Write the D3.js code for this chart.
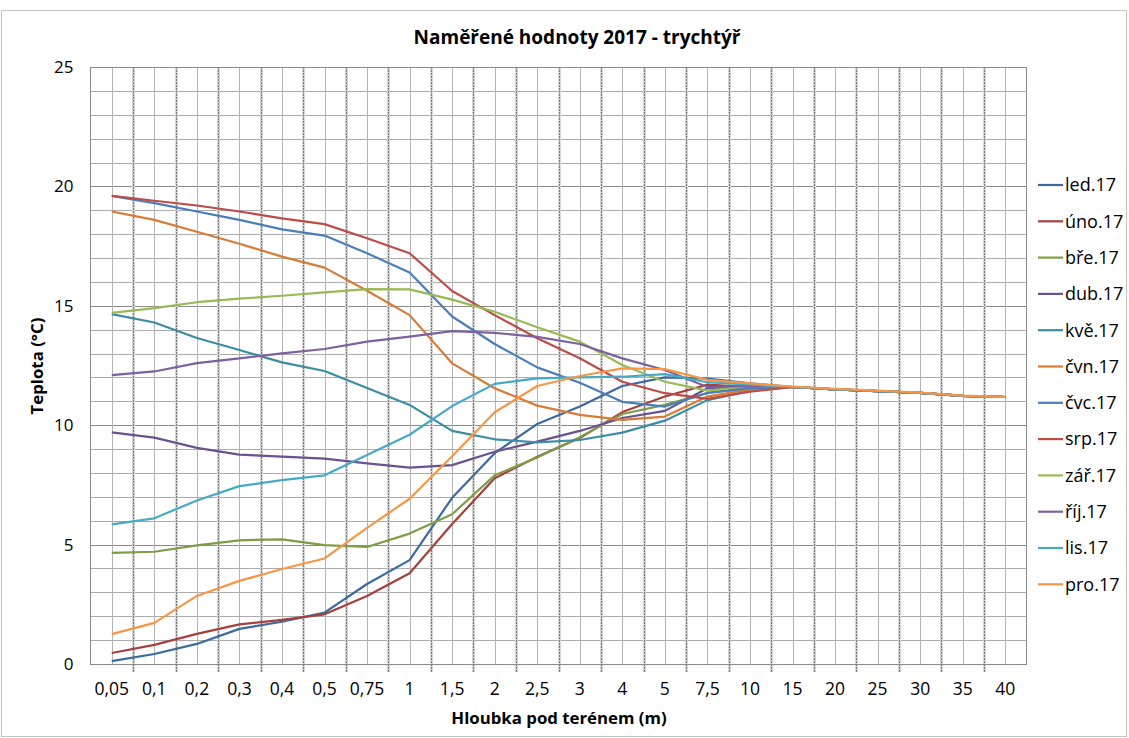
<!DOCTYPE html>
<html>
<head>
<meta charset="utf-8">
<script src="https://cdn.jsdelivr.net/npm/d3@7"></script>
<style>
  body { margin: 0; background: #fff; }
  svg { font-family: "Open Sans", Lato, sans-serif; }
</style>
</head>
<body>
<div id="chart"></div>
<script>
var depths = ["0,05", "0,1", "0,2", "0,3", "0,4", "0,5", "0,75", "1", "1,5", "2", "2,5", "3", "4", "5", "7,5", "10", "15", "20", "25", "30", "35", "40"];
var yTicks = [0, 5, 10, 15, 20, 25];

var months = ["led.17", "úno.17", "bře.17", "dub.17", "kvě.17", "čvn.17", "čvc.17", "srp.17", "zář.17", "říj.17", "lis.17", "pro.17"];

var led = [0.12, 0.42, 0.84, 1.47, 1.77, 2.15, 3.35, 4.35, 6.96, 8.83, 10.05, 10.78, 11.64, 12.0, 11.95, 11.75, 11.6, 11.5, 11.43, 11.35, 11.23, 11.18];
var uno = [0.46, 0.8, 1.26, 1.66, 1.85, 2.08, 2.85, 3.8, 5.86, 7.78, 8.68, 9.46, 10.55, 11.2, 11.7, 11.6, 11.6, 11.5, 11.43, 11.35, 11.23, 11.18];
var bre = [4.65, 4.7, 4.97, 5.18, 5.22, 4.98, 4.9, 5.46, 6.27, 7.9, 8.65, 9.5, 10.47, 10.85, 11.35, 11.55, 11.6, 11.5, 11.43, 11.35, 11.23, 11.18];
var dub = [9.7, 9.48, 9.05, 8.77, 8.68, 8.6, 8.4, 8.22, 8.33, 8.89, 9.31, 9.76, 10.3, 10.6, 11.55, 11.6, 11.6, 11.5, 11.43, 11.35, 11.23, 11.18];
var kve = [14.65, 14.3, 13.65, 13.15, 12.63, 12.27, 11.56, 10.85, 9.76, 9.41, 9.28, 9.38, 9.69, 10.19, 11.05, 11.45, 11.6, 11.5, 11.43, 11.35, 11.23, 11.18];
var cvn = [18.95, 18.6, 18.1, 17.6, 17.06, 16.6, 15.63, 14.61, 12.59, 11.55, 10.82, 10.43, 10.22, 10.36, 11.2, 11.5, 11.6, 11.5, 11.43, 11.35, 11.23, 11.18];
var cvc = [19.6, 19.3, 18.95, 18.6, 18.2, 17.94, 17.2, 16.39, 14.55, 13.4, 12.42, 11.78, 10.98, 10.78, 11.35, 11.55, 11.6, 11.5, 11.43, 11.35, 11.23, 11.18];
var srp = [19.6, 19.4, 19.2, 18.95, 18.66, 18.42, 17.83, 17.2, 15.62, 14.61, 13.64, 12.8, 11.82, 11.34, 11.1, 11.4, 11.6, 11.5, 11.43, 11.35, 11.23, 11.18];
var zar = [14.7, 14.9, 15.15, 15.3, 15.42, 15.56, 15.7, 15.69, 15.26, 14.75, 14.1, 13.5, 12.52, 11.82, 11.45, 11.65, 11.6, 11.5, 11.43, 11.35, 11.23, 11.18];
var rij = [12.1, 12.25, 12.6, 12.8, 13.01, 13.19, 13.5, 13.71, 13.94, 13.87, 13.7, 13.4, 12.8, 12.31, 11.6, 11.65, 11.6, 11.5, 11.43, 11.35, 11.23, 11.18];
var lis = [5.85, 6.1, 6.85, 7.45, 7.7, 7.9, 8.75, 9.6, 10.8, 11.73, 11.96, 12.0, 12.03, 12.14, 11.8, 11.7, 11.6, 11.5, 11.43, 11.35, 11.23, 11.18];
var pro = [1.25, 1.72, 2.85, 3.48, 3.98, 4.42, 5.7, 6.92, 8.7, 10.54, 11.64, 12.06, 12.38, 12.35, 11.9, 11.75, 11.62, 11.52, 11.45, 11.36, 11.24, 11.19];

var seriesValues = [led, uno, bre, dub, kve, cvn, cvc, srp, zar, rij, lis, pro];
var colors = ["#3c6aa0", "#a5403d", "#7f9c46", "#6b5190", "#3b8da3", "#d87b35",
              "#4a7ebb", "#be4b48", "#98b954", "#7d60a0", "#46aac5", "#f79646"];

var width = 1129, height = 738;
var plotLeft = 90.5, plotRight = 1026.5, plotTop = 67, plotBottom = 664;

var svg = d3.select("#chart").append("svg")
    .attr("width", width)
    .attr("height", height);

// chart frame
svg.append("rect")
    .attr("x", 1.5).attr("y", 10.5)
    .attr("width", 1125).attr("height", 726)
    .attr("fill", "#fff")
    .attr("stroke", "#c3c3c3");

var x = d3.scaleBand().domain(depths).range([plotLeft, plotRight]);
var y = d3.scaleLinear().domain([0, 25]).range([plotBottom, plotTop]);

var grid = svg.append("g");

// horizontal grid, every 1 unit
grid.selectAll(".hgrid")
    .data(d3.range(0, 26))
    .enter().append("line")
    .attr("x1", plotLeft).attr("x2", plotRight)
    .attr("y1", function (d) { return Math.round(y(d)) + 0.5 })
    .attr("y2", function (d) { return Math.round(y(d)) + 0.5 })
    .attr("stroke", function (d) { return d % 5 === 0 ? "#8a8a8a" : "#ababab" })
    .attr("stroke-width", 1);

// vertical grid at category centres
grid.selectAll(".vgrid")
    .data(depths)
    .enter().append("line")
    .attr("y1", plotTop).attr("y2", plotBottom)
    .attr("x1", function (d) { return Math.round(x(d) + x.bandwidth() / 2) + 0.5 })
    .attr("x2", function (d) { return Math.round(x(d) + x.bandwidth() / 2) + 0.5 })
    .attr("stroke", "#b4b4b4");

// vertical grid at category boundaries (with tick marks below)
var bounds = depths.slice(1).map(function (d) { return Math.round(x(d)) + 0.5 });
grid.selectAll(".bhalo")
    .data(bounds)
    .enter().append("line")
    .attr("y1", plotTop).attr("y2", plotBottom + 8)
    .attr("x1", function (d) { return d }).attr("x2", function (d) { return d })
    .attr("stroke", "#d6d6d6").attr("stroke-width", 3);
grid.selectAll(".bline")
    .data(bounds)
    .enter().append("line")
    .attr("y1", plotTop).attr("y2", plotBottom + 8)
    .attr("x1", function (d) { return d }).attr("x2", function (d) { return d })
    .attr("stroke", "#7a7a7a").attr("stroke-width", 1)
    .attr("stroke-dasharray", "2,1");

// plot border
svg.append("rect")
    .attr("x", plotLeft).attr("y", plotTop + 0.5)
    .attr("width", plotRight - plotLeft).attr("height", plotBottom - plotTop)
    .attr("fill", "none")
    .attr("stroke", "#8a8a8a");

// axes labels
var xAxis = svg.append("g")
    .attr("transform", "translate(0," + plotBottom + ")")
    .call(d3.axisBottom(x).tickSize(0).tickPadding(19));
xAxis.select(".domain").remove();
xAxis.selectAll("text").attr("font-size", 17.5).attr("fill", "#000")
    .style("font-family", "'Open Sans', sans-serif");

var yAxis = svg.append("g")
    .attr("transform", "translate(" + plotLeft + ",0)")
    .call(d3.axisLeft(y).tickValues(yTicks).tickSize(0).tickPadding(17));
yAxis.select(".domain").remove();
yAxis.selectAll("text").attr("font-size", 17).attr("fill", "#000")
    .style("font-family", "'Open Sans', sans-serif");

// lines
var line = d3.line()
    .x(function (d, i) { return x(depths[i]) + x.bandwidth() / 2 })
    .y(function (d) { return y(d) });

svg.selectAll(".series")
    .data(seriesValues)
    .enter().append("path")
    .attr("class", "series")
    .attr("d", line)
    .attr("fill", "none")
    .attr("stroke", function (d, i) { return colors[i] })
    .attr("stroke-width", 2.2)
    .attr("stroke-linejoin", "round");

// legend
var legend = svg.selectAll(".legend")
    .data(months)
    .enter().append("g")
    .attr("transform", function (d, i) { return "translate(1038," + (185 + i * 36.3) + ")" });
legend.append("line")
    .attr("x1", 0).attr("x2", 25)
    .attr("stroke", function (d, i) { return colors[i] })
    .attr("stroke-width", 2.2);
legend.append("text")
    .attr("x", 27).attr("dy", "0.35em")
    .attr("font-size", 18)
    .text(function (d) { return d });

// titles
svg.append("text")
    .attr("x", 577).attr("y", 44)
    .attr("text-anchor", "middle")
    .attr("font-weight", "bold")
    .attr("font-size", 19)
    .text("Naměřené hodnoty 2017 - trychtýř");

svg.append("text")
    .attr("x", 559).attr("y", 724)
    .attr("text-anchor", "middle")
    .attr("font-weight", "bold")
    .attr("font-size", 16.8)
    .text("Hloubka pod terénem (m)");

svg.append("text")
    .attr("transform", "translate(43,366) rotate(-90)")
    .attr("text-anchor", "middle")
    .attr("font-weight", "bold")
    .attr("font-size", 16.8)
    .text("Teplota (°C)");
</script>
</body>
</html>
